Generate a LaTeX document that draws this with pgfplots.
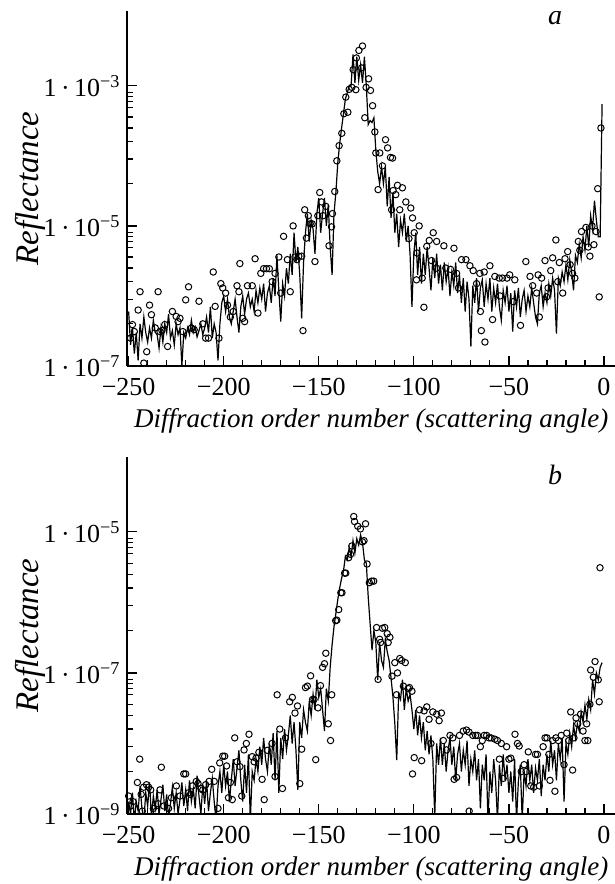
\documentclass[border=0pt]{standalone}
\usepackage{fontspec}
\setmainfont{Liberation Serif}
\usepackage{pgfplots}
\usepackage{pgfplotstable}
\pgfplotsset{compat=1.18}

% panel a: computed curve (one value per order) and measured points
\pgfplotstableread[row sep=\\]{
x y\\
-250 6e-7\\ -249 2e-7\\ -248 3.5e-7\\ -247 1.5e-7\\ -246 3e-7\\ -245 1.2e-7\\ -244 4e-7\\ -243 2.5e-7\\
-242 5e-7\\ -241 3e-7\\ -240 2.2e-7\\ -239 3.5e-7\\ -238 2.5e-7\\ -237 4.5e-7\\ -236 3e-7\\ -235 2.8e-7\\
-234 1.8e-7\\ -233 3.5e-7\\ -232 2.2e-7\\ -231 4e-7\\ -230 3e-7\\ -229 5.5e-7\\ -228 2.5e-7\\ -227 3.2e-7\\
-226 2e-7\\ -225 4e-7\\ -224 2.8e-7\\ -223 3.5e-7\\ -222 1.0e-7\\ -221 3e-7\\ -220 2.5e-7\\ -219 3.5e-7\\
-218 2.8e-7\\ -217 4.5e-7\\ -216 3e-7\\ -215 3.6e-7\\ -214 2.6e-7\\ -213 3.2e-7\\ -212 4e-7\\ -211 2.8e-7\\
-210 3.5e-7\\ -209 5e-7\\ -208 3e-7\\ -207 7e-7\\ -206 2.5e-7\\ -205 4e-7\\ -204 3e-7\\ -203 1.2e-7\\
-202 4e-7\\ -201 8e-7\\ -200 1e-6\\ -199 6e-7\\ -198 9e-7\\ -197 5e-7\\ -196 4e-7\\ -195 6e-7\\
-194 9e-7\\ -193 5e-7\\ -192 3e-7\\ -191 7e-7\\ -190 1e-6\\ -189 5.5e-7\\ -188 9e-7\\ -187 1.1e-6\\
-186 7e-7\\ -185 9e-7\\ -184 6e-7\\ -183 1.2e-6\\ -182 8e-7\\ -181 1.3e-6\\ -180 9e-7\\ -179 1.5e-6\\
-178 6e-7\\ -177 1.1e-6\\ -176 1.4e-6\\ -175 8e-7\\ -174 1.8e-6\\ -173 1e-6\\ -172 3.8e-6\\ -171 1.2e-6\\
-170 4.3e-7\\ -169 1.5e-6\\ -168 1e-6\\ -167 2.5e-6\\ -166 1.5e-6\\ -165 4e-6\\ -164 2e-6\\ -163 8e-6\\
-162 3e-6\\ -161 5e-6\\ -160 2e-6\\ -159 4.8e-7\\ -158 3e-6\\ -157 8e-6\\ -156 1.5e-5\\ -155 6e-6\\
-154 1.2e-5\\ -153 9e-6\\ -152 4e-6\\ -151 1.5e-5\\ -150 2.5e-5\\ -149 8e-6\\ -148 1.5e-5\\ -147 2.5e-5\\
-146 1e-5\\ -145 2e-5\\ -144 5e-6\\ -143 2e-6\\ -142 1.5e-5\\ -141 3e-5\\ -140 8e-5\\ -139 1.5e-4\\
-138 2.5e-4\\ -137 4e-4\\ -136 6.5e-4\\ -135 8e-4\\ -134 1e-3\\ -133 1e-3\\ -132 2.8e-3\\ -131 1.1e-3\\
-130 2.6e-3\\ -129 1.2e-3\\ -128 2e-3\\ -127 1.1e-3\\ -126 2.6e-3\\ -125 1e-3\\ -124 2.8e-4\\ -123 3.2e-4\\
-122 3e-4\\ -121 3.5e-4\\ -120 1.2e-4\\ -119 6e-5\\ -118 4e-5\\ -117 7e-5\\ -116 4e-5\\ -115 7e-5\\
-114 1.9e-5\\ -113 5e-5\\ -112 1.3e-5\\ -111 3e-5\\ -110 8e-6\\ -109 1.5e-5\\ -108 5e-6\\ -107 1.2e-5\\
-106 8e-6\\ -105 1.5e-5\\ -104 6e-6\\ -103 1e-5\\ -102 4e-6\\ -101 7e-7\\ -100 4e-6\\ -99 8e-6\\
-98 2e-6\\ -97 5e-6\\ -96 1.5e-6\\ -95 4e-6\\ -94 2e-6\\ -93 5e-6\\ -92 2.5e-6\\ -91 1.2e-6\\
-90 3.5e-6\\ -89 1.8e-6\\ -88 4e-6\\ -87 1.5e-6\\ -86 2.8e-6\\ -85 1.2e-6\\ -84 3e-6\\ -83 1.6e-6\\
-82 2.5e-6\\ -81 1e-6\\ -80 2.2e-6\\ -79 1.4e-6\\ -78 3e-6\\ -77 1.1e-6\\ -76 2e-6\\ -75 8e-7\\
-74 1.8e-6\\ -73 6e-7\\ -72 1.6e-6\\ -71 9e-7\\ -70 1.9e-7\\ -69 1.4e-6\\ -68 8e-7\\ -67 1.8e-6\\
-66 6e-7\\ -65 1.3e-6\\ -64 1.7e-6\\ -63 7e-7\\ -62 1.5e-6\\ -61 9e-7\\ -60 1.8e-6\\ -59 6e-7\\
-58 1.3e-6\\ -57 8e-7\\ -56 1.5e-6\\ -55 7e-7\\ -54 4.5e-7\\ -53 1.2e-6\\ -52 8e-7\\ -51 1.4e-6\\
-50 6e-7\\ -49 1.1e-6\\ -48 3.1e-7\\ -47 1.2e-6\\ -46 7e-7\\ -45 1.3e-6\\ -44 5e-7\\ -43 9e-7\\
-42 1.2e-6\\ -41 6e-7\\ -40 1e-6\\ -39 7e-7\\ -38 1.3e-6\\ -37 8e-7\\ -36 5e-7\\ -35 4e-7\\
-34 1.1e-6\\ -33 1.4e-6\\ -32 7e-7\\ -31 1.1e-6\\ -30 8e-7\\ -29 1.5e-6\\ -28 1e-6\\ -27 1.8e-6\\
-26 1.2e-6\\ -25 2.9e-7\\ -24 1.8e-6\\ -23 1.4e-6\\ -22 2.2e-6\\ -21 1.6e-6\\ -20 2.8e-6\\ -19 1.7e-6\\
-18 3.3e-6\\ -17 2.2e-6\\ -16 1.2e-6\\ -15 3.8e-6\\ -14 3e-6\\ -13 5.5e-6\\ -12 3.5e-6\\ -11 7e-6\\
-10 4.5e-6\\ -9 1e-5\\ -8 5e-6\\ -7 1.4e-5\\ -6 9e-6\\ -5 2.3e-5\\ -4 1.2e-5\\ -3 7e-6\\
-2 7e-6\\ -1 5.5e-4\\
}\lineA

\pgfplotstableread[row sep=\\]{
x y\\
-249 2.5e-7\\ -248 3.9e-7\\ -247 3.1e-7\\ -245 6.3e-7\\ -244 1.15e-6\\ -242 1.1e-7\\ -240.5 1.6e-7\\ -239 7.4e-7\\
-238 5.4e-7\\ -236 3.5e-7\\ -234.5 1.15e-6\\ -233.5 3.1e-7\\ -232.5 3.2e-7\\ -231 3.9e-7\\ -229.5 1.9e-7\\ -227 6e-7\\
-225 5.1e-7\\ -224 4.3e-7\\ -223 4.8e-7\\ -221.5 3.1e-7\\ -220 8.8e-7\\ -218.5 1.35e-6\\ -217 3.5e-7\\ -215.5 3.3e-7\\
-213 8.4e-7\\ -211 4e-7\\ -209.5 2.5e-7\\ -208 2.5e-7\\ -205.5 2.2e-6\\ -204.5 7.1e-7\\ -202.5 2.5e-7\\ -201.5 1.5e-6\\
-200.5 1.3e-6\\ -199 1.1e-6\\ -198 7.4e-7\\ -196.5 5e-7\\ -195 6e-7\\ -193 1.4e-6\\ -192 1.15e-6\\ -191.5 2.9e-6\\
-190 4.8e-7\\ -189 4.3e-7\\ -187.5 1.4e-6\\ -185 1.4e-6\\ -183.5 3.4e-6\\ -182 5.7e-7\\ -180.5 2.1e-6\\ -179 2.45e-6\\
-177.5 2.45e-6\\ -176 2.45e-6\\ -174.5 1.6e-6\\ -173 2.1e-6\\ -171 3.6e-6\\ -170 1.1e-6\\ -168.5 7.1e-6\\ -166.5 3.3e-6\\
-165 1.15e-6\\ -163.5 1e-5\\ -162.5 3.6e-6\\ -161.5 3.3e-6\\ -160.5 3.7e-6\\ -159 3.7e-6\\ -158.3 3.2e-7\\ -157.4 1.7e-5\\
-156.5 6.7e-6\\ -155.5 1.4e-5\\ -154.5 1.07e-5\\ -153.5 1.07e-5\\ -152 3.1e-6\\ -150.5 1.4e-5\\ -149.5 3e-5\\ -148.6 2.2e-5\\
-147.7 1.4e-5\\ -146.3 1.9e-5\\ -144.6 5.2e-6\\ -143.3 9.7e-6\\ -142.8 1.5e-5\\ -141.6 3.1e-5\\ -140.5 8.5e-5\\ -139.3 1.4e-4\\
-137.9 2.1e-4\\ -136.8 4e-4\\ -135.8 6.9e-4\\ -134.7 4.2e-4\\ -134 8.9e-4\\ -132.6 9.5e-4\\ -131.9 1.7e-3\\ -130.5 8.8e-4\\
-130.2 2.5e-3\\ -128.9 3.2e-3\\ -127.5 1.8e-3\\ -127 3.7e-3\\ -125.8 3.5e-4\\ -125.1 9.5e-4\\ -123.8 1.26e-3\\ -122.8 8.6e-4\\
-121.7 5.2e-4\\ -120.5 2.2e-4\\ -120 1.1e-4\\ -118.8 3.3e-5\\ -117.9 1.1e-4\\ -116.5 7.2e-5\\ -114.9 1.7e-4\\ -113.8 1.3e-4\\
-112.3 9.5e-5\\ -111.7 1.7e-5\\ -111.2 9.3e-5\\ -110.9 3.2e-5\\ -109.5 2.8e-5\\ -108.6 3.8e-5\\ -107.4 1.7e-5\\ -106 3.5e-5\\
-104.2 2.2e-5\\ -102.6 6.6e-6\\ -101.6 1.8e-5\\ -100.7 1.3e-5\\ -99.8 8e-6\\ -98.6 1.7e-6\\ -98.3 4.1e-6\\ -97.2 1e-5\\
-95.6 1.8e-6\\ -94.7 6.9e-7\\ -93.2 5.1e-6\\ -91.9 6.2e-6\\ -90.7 3.2e-6\\ -89.8 8e-6\\ -88.1 2.5e-6\\ -88 6e-6\\
-84.2 5.2e-6\\ -83.2 2.5e-6\\ -80.7 2.4e-6\\ -78.9 4.8e-6\\ -77.5 2.1e-6\\ -76.5 1.3e-6\\ -74.9 3.3e-6\\ -72.6 3.3e-6\\
-70.5 2.7e-6\\ -68.8 2.3e-6\\ -67 1.5e-6\\ -65.3 2.1e-6\\ -65 6e-7\\ -64.5 3.2e-7\\ -63 2.2e-6\\ -62.6 2.2e-7\\
-60 2.7e-6\\ -58.6 4.6e-7\\ -57.4 1.9e-6\\ -55.1 1.8e-6\\ -54.7 1e-6\\ -53.4 1.8e-6\\ -51 1.8e-6\\ -49.6 2e-6\\
-47.7 8.3e-7\\ -46.9 1.7e-6\\ -43.9 3.8e-7\\ -41.1 3.1e-6\\ -38.9 1.9e-6\\ -37.5 1.4e-6\\ -35.4 1.1e-6\\ -34.6 2e-6\\
-34 5e-7\\ -32.8 1.8e-6\\ -31 3.2e-6\\ -30.2 9.7e-7\\ -29.4 1.3e-6\\ -28 2.3e-6\\ -27 3.5e-6\\ -25.3 6.3e-6\\
-24.3 1.6e-6\\ -23.5 3e-6\\ -21.7 1.1e-6\\ -20.5 3.4e-6\\ -19.1 4.3e-6\\ -17.8 2.8e-6\\ -16.5 2.1e-6\\ -15.3 1.8e-6\\
-13.5 6e-6\\ -12.7 4.5e-6\\ -11.8 8.3e-6\\ -9.5 9.5e-6\\ -8.3 5e-6\\ -7.4 3.7e-6\\ -6.3 1e-5\\ -5.3 5.4e-6\\
-4.2 8.3e-6\\ -3.3 3.4e-5\\ -2.5 9.7e-7\\ -1.6 2.5e-4\\
}\dotsA

% panel b
\pgfplotstableread[row sep=\\]{
x y\\
-250 1.5e-9\\ -249 1e-9\\ -248 2e-9\\ -247 8e-10\\ -246 1.5e-9\\ -245 1.1e-9\\ -244 2.5e-9\\ -243 1.2e-9\\
-242 8e-10\\ -241 2e-9\\ -240 1.3e-9\\ -239 2.8e-9\\ -238 9e-10\\ -237 1.8e-9\\ -236 1.2e-9\\ -235 2.2e-9\\
-234 1e-9\\ -233 1.6e-9\\ -232 2.6e-9\\ -231 1.1e-9\\ -230 1.9e-9\\ -229 9e-10\\ -228 1.4e-9\\ -227 2.4e-9\\
-226 1.2e-9\\ -225 2e-9\\ -224 1e-9\\ -223 1.6e-9\\ -222 2.8e-9\\ -221 1.3e-9\\ -220 2.2e-9\\ -219 1.1e-9\\
-218 3e-9\\ -217 1.5e-9\\ -216 2.3e-9\\ -215 1.2e-9\\ -214 3.5e-9\\ -213 1.8e-9\\ -212 1e-9\\ -211 2.6e-9\\
-210 1.4e-9\\ -209 3e-9\\ -208 1.1e-9\\ -207 2e-9\\ -206 3.2e-9\\ -205 1.5e-9\\ -204 8e-10\\ -203 2.5e-9\\
-202 4e-9\\ -201 2e-9\\ -200 5e-9\\ -199 2.5e-9\\ -198 4e-9\\ -197 1.5e-9\\ -196 3e-9\\ -195 6e-9\\
-194 2.5e-9\\ -193 4.5e-9\\ -192 8e-9\\ -191 3e-9\\ -190 1.5e-9\\ -189 5e-9\\ -188 2e-9\\ -187 7e-9\\
-186 8e-10\\ -185 4e-9\\ -184 3e-9\\ -183 6e-9\\ -182 4e-9\\ -181 9e-9\\ -180 5e-9\\ -179 1.2e-8\\
-178 6e-9\\ -177 4e-9\\ -176 1e-8\\ -175 5e-9\\ -174 1.4e-8\\ -173 3e-9\\ -172 1.5e-8\\ -171 2e-9\\
-170 1.2e-8\\ -169 6e-9\\ -168 1.6e-8\\ -167 8e-9\\ -166 1.3e-8\\ -165 2.5e-8\\ -164 1e-8\\ -163 2e-8\\
-162 8e-9\\ -161 2.2e-9\\ -160 2e-8\\ -159 1.2e-8\\ -158 3e-8\\ -157 2e-8\\ -156 1.5e-8\\ -155 4e-8\\
-154 2.5e-8\\ -153 5e-8\\ -152 3e-8\\ -151 8e-8\\ -150 4.5e-8\\ -149 6e-8\\ -148 3e-8\\ -147 1.5e-8\\
-146 6e-8\\ -145 4e-8\\ -144 1.2e-7\\ -143 2.5e-7\\ -142 4.5e-7\\ -141 7e-7\\ -140 1.1e-6\\ -139 1.6e-6\\
-138 2.2e-6\\ -137 2.8e-6\\ -136 4.5e-6\\ -135 4e-6\\ -134 6e-6\\ -133 4.5e-6\\ -132 7.5e-6\\ -131 5e-6\\
-130 8e-6\\ -129 6.5e-6\\ -128 9e-6\\ -127 7e-6\\ -126 4e-6\\ -125 3.6e-6\\ -124 1.2e-6\\ -123 5e-7\\
-122 2.1e-7\\ -121 4e-7\\ -120 2.7e-7\\ -119 8e-8\\ -118 2.7e-7\\ -117 1.5e-7\\ -116 1.2e-7\\ -115 3e-7\\
-114 2e-7\\ -113 1.5e-7\\ -112 8.5e-8\\ -111 4.6e-8\\ -110 1.9e-8\\ -109 5.8e-9\\ -108 5e-8\\ -107 4.2e-8\\
-106 8e-8\\ -105 3e-8\\ -104 6e-8\\ -103 4e-8\\ -102 5e-8\\ -101 3e-8\\ -100 1.6e-8\\ -99 3e-8\\
-98 1.3e-8\\ -97 2.5e-8\\ -96 1.2e-8\\ -95 2e-8\\ -94 8e-9\\ -93 1.5e-8\\ -92 7e-9\\ -91 1.3e-8\\
-90 6e-9\\ -89 9e-10\\ -88 1e-8\\ -87 5e-9\\ -86 1.2e-8\\ -85 5e-9\\ -84 1e-8\\ -83 4e-9\\
-82 8e-9\\ -81 1.2e-8\\ -80 5e-9\\ -79 9e-9\\ -78 3e-9\\ -77 7e-9\\ -76 1e-8\\ -75 4e-9\\
-74 8e-9\\ -73 5e-9\\ -72 1.1e-8\\ -71 2.5e-9\\ -70 6e-9\\ -69 4e-9\\ -68 8e-9\\ -67 3e-9\\
-66 6e-9\\ -65 1.2e-9\\ -64 5e-9\\ -63 3e-9\\ -62 7e-9\\ -61 8e-10\\ -60 4e-9\\ -59 2e-9\\
-58 6e-9\\ -57 3e-9\\ -56 8e-10\\ -55 5e-9\\ -54 2.5e-9\\ -53 7e-9\\ -52 3e-9\\ -51 5e-9\\
-50 2e-9\\ -49 4e-9\\ -48 1.5e-9\\ -47 6e-9\\ -46 8e-10\\ -45 3e-9\\ -44 5e-9\\ -43 8e-10\\
-42 4e-9\\ -41 2.5e-9\\ -40 6e-9\\ -39 3e-9\\ -38 5e-9\\ -37 2e-9\\ -36 4.5e-9\\ -35 3e-9\\
-34 6e-9\\ -33 1.8e-9\\ -32 5e-9\\ -31 3e-9\\ -30 7e-9\\ -29 4e-9\\ -28 1.1e-8\\ -27 5e-9\\
-26 8e-9\\ -25 3e-9\\ -24 1e-8\\ -23 6e-9\\ -22 1.2e-8\\ -21 1.5e-9\\ -20 1e-8\\ -19 7e-9\\
-18 1.4e-8\\ -17 9e-9\\ -16 1.8e-8\\ -15 1.2e-8\\ -14 1.9e-8\\ -13 1.5e-8\\ -12 2.8e-8\\ -11 2e-8\\
-10 3.5e-8\\ -9 2.2e-8\\ -8 4.2e-8\\ -7 3e-8\\ -6 8e-8\\ -5 5e-8\\ -4 1e-7\\ -3 8e-8\\
-2 1.2e-7\\ -1 1.4e-7\\
}\lineB

\pgfplotstableread[row sep=\\]{
x y\\
-250 1.8e-9\\ -249 1.3e-9\\ -247.7 1.5e-9\\ -245.4 2.8e-9\\ -244.2 6e-9\\ -243.4 1.9e-9\\ -242.8 1.1e-9\\ -242.1 2.4e-9\\
-240.6 2.6e-9\\ -239.5 2.4e-9\\ -238.4 2.2e-9\\ -237 1.2e-9\\ -235.5 1.1e-9\\ -234.5 1.4e-9\\ -233.5 2.2e-9\\ -232.8 4.6e-9\\
-231.5 1.3e-9\\ -229 1.2e-9\\ -227.5 1.7e-9\\ -224.9 2.5e-9\\ -223 1.8e-9\\ -221 3.7e-9\\ -220 3.7e-9\\ -218.5 2e-9\\
-217.5 1.9e-9\\ -216.5 2.5e-9\\ -214.4 2.9e-9\\ -213.5 2.7e-9\\ -212 2.3e-9\\ -211 2.2e-9\\ -209.5 2.6e-9\\ -207.7 2.9e-9\\
-206.3 4.3e-9\\ -205 2.9e-9\\ -203 1.2e-9\\ -202.1 5.3e-9\\ -200.5 6.6e-9\\ -199.5 6.6e-9\\ -198.5 4.8e-9\\ -197.5 1.7e-9\\
-196.5 2.8e-9\\ -195.5 1.6e-9\\ -194.2 1.2e-8\\ -193 5.5e-9\\ -191.5 4.7e-9\\ -190.5 1.8e-9\\ -189.3 8.1e-9\\ -188.1 1e-8\\
-186.7 1.35e-8\\ -185 6.5e-9\\ -184 5.5e-9\\ -183 6.2e-9\\ -181.5 7.5e-9\\ -179.8 3.1e-9\\ -178.7 1.6e-9\\ -177 8e-9\\
-174.6 1e-8\\ -173 3.4e-9\\ -171.9 4.9e-8\\ -170.5 1.6e-8\\ -169.1 2.3e-9\\ -167.5 1.2e-8\\ -165.3 3.9e-8\\ -163.9 4.5e-8\\
-162.5 2.7e-8\\ -161.2 3.4e-8\\ -160 2.7e-9\\ -159 8.3e-9\\ -157 6.2e-8\\ -156 6.5e-8\\ -154.3 9.1e-8\\ -153.3 4.2e-8\\
-152.5 4.2e-8\\ -151.6 5.9e-9\\ -150.4 3.2e-8\\ -149.1 6.6e-8\\ -148 1.2e-7\\ -147 1.35e-7\\ -146.3 1.9e-7\\ -145 1.9e-8\\
-143.8 1.1e-8\\ -143.2 4.9e-8\\ -141.1 5.5e-7\\ -140.5 5.6e-7\\ -139.5 7.9e-7\\ -138.4 1.37e-6\\ -137.8 1.37e-6\\ -136.4 2.6e-6\\
-135.8 2.6e-6\\ -134.3 4.3e-6\\ -133.3 4.8e-6\\ -132.6 6.3e-6\\ -131.6 1.65e-5\\ -131.2 1.4e-5\\ -129.5 1.2e-5\\ -128.1 1.1e-5\\
-127 7.2e-6\\ -126.2 7.5e-6\\ -125.4 1.3e-5\\ -124.6 3.5e-6\\ -123.4 1.9e-6\\ -122.2 2e-6\\ -121.1 2e-6\\ -119.6 4.4e-7\\
-118.8 8.1e-8\\ -118 3e-7\\ -117.5 2.7e-7\\ -116.5 4.3e-7\\ -115.3 4.4e-7\\ -114 3.6e-7\\ -113.5 2.7e-7\\ -112.6 3.2e-7\\
-111.5 9e-8\\ -110 1.4e-7\\ -109.1 4.9e-8\\ -108.6 1e-7\\ -107.4 1.6e-7\\ -106.4 1.5e-7\\ -105.5 6.5e-8\\ -104.5 1.4e-7\\
-103 6e-8\\ -102.3 6.2e-8\\ -101 5.5e-8\\ -100.7 3.7e-9\\ -99.8 6.3e-9\\ -97 3e-8\\ -95.9 5.7e-9\\ -94.6 2.9e-8\\
-93.2 3.3e-8\\ -92 2.2e-8\\ -91 1e-8\\ -90 2.8e-8\\ -88 2.6e-8\\ -86.7 2.1e-8\\ -85.5 2.7e-8\\ -84.5 1.1e-8\\
-82.8 8.1e-9\\ -81 1.3e-8\\ -79.5 1.2e-8\\ -78.8 3.1e-9\\ -77.5 3.3e-9\\ -76 1.3e-8\\ -74 1.5e-8\\ -72.3 1.55e-8\\
-71 1.45e-8\\ -70.9 1.1e-9\\ -69 1.3e-8\\ -67.5 1.3e-8\\ -66.5 1.3e-8\\ -65 9e-9\\ -64 1.1e-8\\ -63 1.3e-8\\
-61.7 1.3e-8\\ -60.5 1.2e-8\\ -59.4 1.2e-8\\ -57.4 1.15e-8\\ -56 1.1e-8\\ -55 6e-9\\ -54 1e-8\\ -53 3.2e-9\\
-51.2 9e-9\\ -50 6e-9\\ -49 6.2e-9\\ -46.8 1.35e-8\\ -45.5 1e-8\\ -44.6 9.2e-9\\ -43.5 4e-9\\ -42 5e-9\\
-41 4e-9\\ -39.8 7.6e-9\\ -38.5 2.5e-9\\ -37 2.4e-9\\ -36 7e-9\\ -35 7e-9\\ -34 2.5e-9\\ -32 9e-9\\
-31 1.2e-8\\ -30 1.2e-8\\ -29 7e-9\\ -28.4 3e-9\\ -27 1.1e-8\\ -25.8 2.1e-9\\ -25.3 1.2e-8\\ -24 1.1e-8\\
-22.5 1.3e-8\\ -21 5e-9\\ -19.6 1.4e-8\\ -18.5 1.1e-8\\ -17.5 2.8e-8\\ -16.5 4.2e-9\\ -15.8 1.2e-8\\ -14.7 2.3e-8\\
-13.8 1.9e-8\\ -12.3 2.6e-8\\ -11 1.5e-8\\ -10 1.1e-8\\ -9.1 1.9e-8\\ -8.5 1.1e-8\\ -7.4 3.6e-8\\ -7 1.1e-7\\
-5.6 8.7e-8\\ -4.7 1.45e-7\\ -3 8e-8\\ -2.5 3.9e-8\\ -2.1 3.1e-6\\
}\dotsB

\begin{document}
\begin{tikzpicture}
\begin{axis}[
  at={(0,0)}, anchor=south west,
  scale only axis, width=243.75pt, height=177.5pt,
  ymode=log, xmin=-250.6, xmax=5.8,
  ymin=1e-7, ymax=1.17e-2,
  axis x line=bottom, axis y line=left,
  axis line style={-, line width=1pt},
  tick align=inside,
  major tick length=5pt, minor tick length=3pt,
  tick style={line width=0.6pt, black},
  xtick={-250,-200,-150,-100,-50,0},
  xticklabels={−250,−200,−150,−100,−50,0},
  minor x tick num=4,
  ytick={1e-7,1e-5,1e-3},
  yticklabels={1\,·\,10\textsuperscript{−7},1\,·\,10\textsuperscript{−5},1\,·\,10\textsuperscript{−3}},
  minor ytick={4e-7,9e-7,1.6e-6,2.5e-6,3.6e-6,4.9e-6,6e-6,7e-6,8.1e-6,
               4e-5,9e-5,1.6e-4,2.5e-4,3.6e-4,4.9e-4,6e-4,7e-4,8.1e-4},
  tick label style={font=\fontsize{13}{15}\selectfont},
  xticklabel style={yshift=-2.5pt},
  xlabel={Diffraction order number (scattering angle)},
  ylabel={Reflectance},
  xlabel style={font=\fontsize{13.5}{16}\selectfont\itshape,
                at={(axis description cs:0.5,0)}, anchor=base, yshift=-30.5pt},
  ylabel style={font=\fontsize{16.5}{19}\selectfont\itshape,
                at={(axis description cs:-0.2,0.5)}, anchor=center},
]
  \addplot[black, line width=0.6pt, mark=none] table[x=x, y=y] {\lineA};
  \addplot[black, only marks, mark=o, mark size=1.6pt, mark options={line width=0.5pt}] table[x=x, y=y] {\dotsA};
  \node[font=\fontsize{14}{16}\selectfont\itshape, anchor=base] at (axis description cs:0.877,0.961) {a};
\end{axis}
\begin{axis}[
  at={(0,-224pt)}, anchor=south west,
  scale only axis, width=243.75pt, height=178.5pt,
  ymode=log, xmin=-250.6, xmax=5.8,
  ymin=1e-9, ymax=1.15e-4,
  axis x line=bottom, axis y line=left,
  axis line style={-, line width=1pt},
  tick align=inside,
  major tick length=5pt, minor tick length=3pt,
  tick style={line width=0.6pt, black},
  xtick={-250,-200,-150,-100,-50,0},
  xticklabels={−250,−200,−150,−100,−50,0},
  minor x tick num=4,
  ytick={1e-9,1e-7,1e-5},
  yticklabels={1\,·\,10\textsuperscript{−9},1\,·\,10\textsuperscript{−7},1\,·\,10\textsuperscript{−5}},
  minor ytick={4e-9,9e-9,1.6e-8,2.5e-8,3.6e-8,4.9e-8,6e-8,7e-8,8.1e-8,
               4e-7,9e-7,1.6e-6,2.5e-6,3.6e-6,4.9e-6,6e-6,7e-6,8.1e-6},
  tick label style={font=\fontsize{13}{15}\selectfont},
  xticklabel style={yshift=-2.5pt},
  xlabel={Diffraction order number (scattering angle)},
  ylabel={Reflectance},
  xlabel style={font=\fontsize{13.5}{16}\selectfont\itshape,
                at={(axis description cs:0.5,0)}, anchor=base, yshift=-30.5pt},
  ylabel style={font=\fontsize{16.5}{19}\selectfont\itshape,
                at={(axis description cs:-0.2,0.5)}, anchor=center},
]
  \addplot[black, line width=0.6pt, mark=none] table[x=x, y=y] {\lineB};
  \addplot[black, only marks, mark=o, mark size=1.6pt, mark options={line width=0.5pt}] table[x=x, y=y] {\dotsB};
  \node[font=\fontsize{14}{16}\selectfont\itshape, anchor=base] at (axis description cs:0.877,0.924) {b};
\end{axis}
\pgfresetboundingbox
\path[use as bounding box] (-63.75pt,-259pt) rectangle (243.75pt,183pt);
\end{tikzpicture}
\end{document}
